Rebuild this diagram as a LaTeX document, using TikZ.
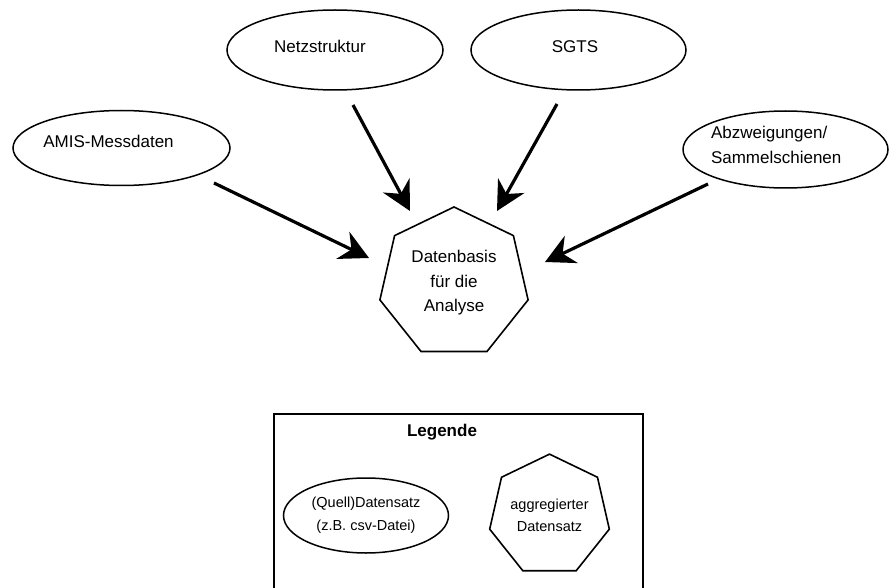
\documentclass[tikz,border=0pt]{standalone}
\usepackage{fontspec}
\setmainfont{Liberation Sans}
\usetikzlibrary{shapes.geometric, arrows.meta}
\begin{document}
\begin{tikzpicture}[x=1pt,y=-1pt,
  src/.style={draw, line width=1.5pt, ellipse, inner sep=0pt, outer sep=0pt},
  lbl/.style={font=\fontsize{17}{24.5}\selectfont, inner sep=0pt, outer sep=0pt},
  agg/.style={draw, line width=1.6pt, regular polygon, regular polygon sides=7, inner sep=0pt, outer sep=0pt, align=center},
  feed/.style={line width=3.2pt, -{Stealth[length=29pt,width=30pt,inset=9.5pt]}},
]
\useasboundingbox (0,0) rectangle (889,588);
\clip (0,0) rectangle (889,588);

% source data sets
\node[src, minimum width=216pt, minimum height=80pt] (netz) at (335,50) {};
\node[lbl, anchor=base] (netzt) at (320,53) {Netzstruktur};
\node[src, minimum width=215pt, minimum height=80pt] (sgts) at (578.5,50) {};
\node[lbl, anchor=base] (sgtst) at (575,53) {SGTS};
\node[src, minimum width=217pt, minimum height=75pt] (amis) at (121.5,148) {};
\node[lbl, anchor=base] (amist) at (108.5,148) {AMIS-Messdaten};
\node[src, minimum width=205pt, minimum height=77pt] (abz) at (785.5,149.5) {};
\node[lbl, align=left, anchor=west] (abzt) at (711,145) {Abzweigungen/\\Sammelschienen};

% aggregated data set
\node[agg, minimum size=152pt, font=\fontsize{17}{24.5}\selectfont] (basis) at (454,283) {Datenbasis\\für die\\Analyse};

% connectors
\coordinate (amisS) at (214,183);  \coordinate (amisE) at (369,258);
\coordinate (netzS) at (353,105);  \coordinate (netzE) at (410,211);
\coordinate (sgtsS) at (557,104);  \coordinate (sgtsE) at (497,211);
\coordinate (abzS)  at (708,184);  \coordinate (abzE)  at (545,262);
\draw[feed] (amisS) -- (amisE);
\draw[feed] (netzS) -- (netzE);
\draw[feed] (sgtsS) -- (sgtsE);
\draw[feed] (abzS) -- (abzE);

% legend
\node[draw, line width=1.8pt, minimum width=369pt, minimum height=190pt, anchor=north west, inner sep=0pt, outer sep=0pt] (legend) at (274,414) {};
\node[font=\bfseries\fontsize{17}{20}\selectfont, anchor=base, inner sep=0pt] (legt) at (442,436) {Legende};
\node[src, minimum width=165pt, minimum height=75pt, font=\fontsize{14.5}{23}\selectfont, align=center] (lsrc) at (366,515.5) {(Quell)Datensatz\\(z.B. csv-Datei)};
\node[agg, minimum size=119pt, font=\fontsize{14.5}{22}\selectfont] (lagg) at (549.5,515.5) {aggregierter\\Datensatz};
\end{tikzpicture}
\end{document}
